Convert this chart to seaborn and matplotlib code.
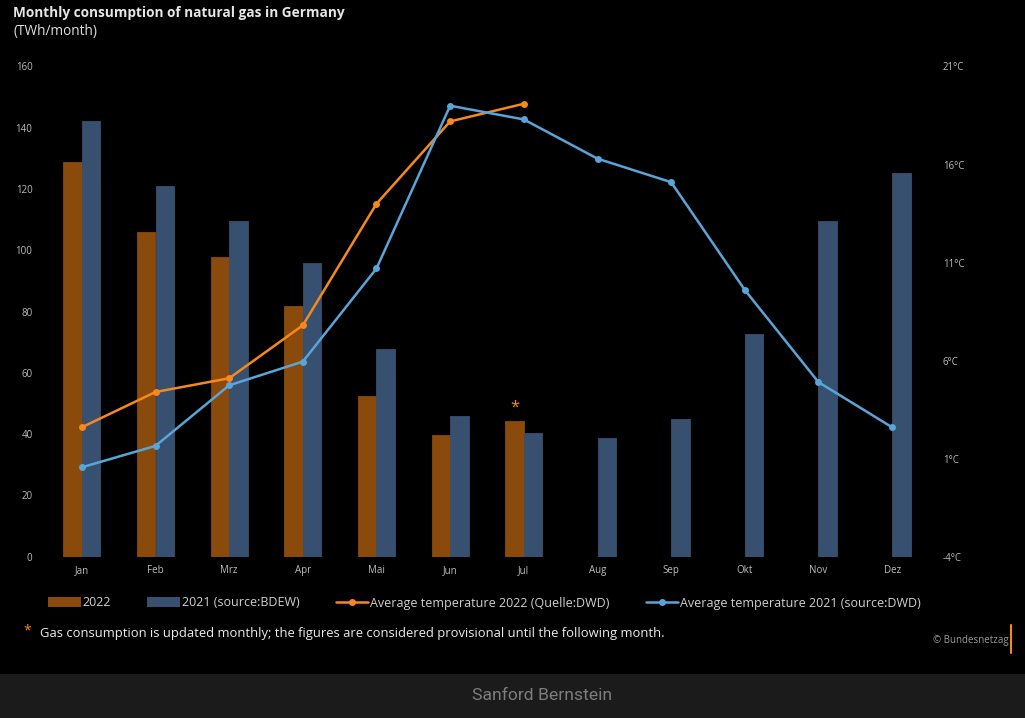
import numpy as np
import pandas as pd
import matplotlib
matplotlib.use("Agg")
import matplotlib.pyplot as plt
from matplotlib.patches import Patch, Rectangle
from matplotlib.lines import Line2D
import seaborn as sns

months = ["Jan", "Feb", "Mrz", "Apr", "Mai", "Jun", "Jul", "Aug", "Sep", "Okt", "Nov", "Dez"]
gas_2022 = [128.7, 105.9, 97.7, 81.7, 52.5, 39.7, 44.3, np.nan, np.nan, np.nan, np.nan, np.nan]
gas_2021 = [142.2, 121.0, 109.5, 95.8, 67.9, 46.0, 40.4, 38.6, 45.0, 72.8, 109.5, 125.2]
temp_2022 = [2.6, 4.4, 5.1, 7.8, 14.0, 18.2, 19.1, np.nan, np.nan, np.nan, np.nan, np.nan]
temp_2021 = [0.56, 1.65, 4.74, 5.95, 10.7, 19.0, 18.3, 16.3, 15.1, 9.6, 4.9, 2.6]
left_ticks = [0, 20, 40, 60, 80, 100, 120, 140, 160]
right_ticks = [-4, 1, 6, 11, 16, 21]

C_BAR22 = "#8a4a0b"
C_BAR21 = "#37506f"
C_LN22 = "#f7891c"
C_LN21 = "#5aa5d8"
TXT = "#bdbdbd"

sns.set_theme(style="dark")
plt.rcParams["font.family"] = ["Open Sans", "DejaVu Sans"]

fig = plt.figure(figsize=(10.25, 7.18), dpi=100, facecolor="black")
ax = fig.add_axes([45 / 1025, 1 - 556.7 / 718, (929 - 45) / 1025, (556.7 - 66.5) / 718])
ax.set_facecolor("black")

bars = pd.DataFrame({
    "month": months * 2,
    "value": gas_2022 + gas_2021,
    "year": ["2022"] * 12 + ["2021"] * 12,
})
sns.barplot(data=bars, x="month", y="value", hue="year", order=months,
            hue_order=["2022", "2021"], palette={"2022": C_BAR22, "2021": C_BAR21},
            width=0.5, errorbar=None, saturation=1, ax=ax, legend=False)
for p in ax.patches:
    p.set_edgecolor(p.get_facecolor())
    p.set_linewidth(0.6)

ax.set_xlim(-0.5, 11.5)
ax.set_ylim(left_ticks[0], left_ticks[-1])
ax.set_yticks(left_ticks)
ax.set_xlabel("")
ax.set_ylabel("")
ax.tick_params(axis="both", length=0, colors=TXT, labelsize=7)
ax.tick_params(axis="y", pad=9)
ax.tick_params(axis="x", pad=6)
for s in ax.spines.values():
    s.set_visible(False)
ax.grid(False)

# provisional star over July 2022
jul = months.index("Jul")
ax.text(jul - 0.125, gas_2022[jul] + 4.5, "*", color=C_LN22, ha="center", va="center", fontsize=12)

ax2 = ax.twinx()
ax2.set_facecolor("none")
idx = list(range(len(months)))
lines = pd.DataFrame({
    "idx": idx * 2,
    "temp": temp_2022 + temp_2021,
    "series": ["2022"] * 12 + ["2021"] * 12,
})
sns.lineplot(data=lines.dropna(), x="idx", y="temp", hue="series",
             palette={"2022": C_LN22, "2021": C_LN21}, marker="o", markersize=5,
             markeredgewidth=0, linewidth=1.8, ax=ax2, legend=False, sort=False)
ax2.set_ylim(right_ticks[0], right_ticks[-1])
ax2.set_yticks(right_ticks)
ax2.set_yticklabels([f"{t}°C" for t in right_ticks])
ax2.set_xlim(-0.5, 11.5)
ax2.set_xlabel("")
ax2.set_ylabel("")
ax2.tick_params(axis="y", length=0, colors=TXT, labelsize=7, pad=10)
for s in ax2.spines.values():
    s.set_visible(False)
ax2.grid(False)

# titles
fig.text(13 / 1025, 1 - 13 / 718, "Monthly consumption of natural gas in Germany",
         color="#e6e6e6", fontsize=9.8, fontweight="bold", ha="left", va="center")
fig.text(13 / 1025, 1 - 32 / 718, "(TWh/month)", color="#e0e0e0", fontsize=9.8,
         ha="left", va="center")

# legend
handles = [
    Patch(facecolor=C_BAR22, edgecolor="none", label="2022"),
    Patch(facecolor=C_BAR21, edgecolor="none", label="2021 (source:BDEW)"),
    Line2D([], [], color=C_LN22, marker="o", markersize=4, linewidth=1.8,
           label="Average temperature 2022 (Quelle:DWD)"),
    Line2D([], [], color=C_LN21, marker="o", markersize=4, linewidth=1.8,
           label="Average temperature 2021 (source:DWD)"),
]
leg = fig.legend(handles=handles, loc="center left", bbox_to_anchor=(37 / 1025, 1 - 603 / 718),
                 ncol=4, frameon=False, fontsize=9, labelcolor="#d0d0d0",
                 handlelength=2.6, handleheight=0.8, handletextpad=0.15, columnspacing=2.9)

# footnote
fig.text(27 / 1025, 1 - 631 / 718, "*", color=C_LN22, fontsize=10, ha="center", va="center")
fig.text(40 / 1025, 1 - 633 / 718,
         "Gas consumption is updated monthly; the figures are considered provisional until the following month.",
         color="#ececec", fontsize=9.4, ha="left", va="center")
fig.text(933 / 1025, 1 - 641 / 718, "© Bundesnetzag", color="#9a9a9a", fontsize=7,
         ha="left", va="center")
fig.add_artist(Line2D([1011 / 1025, 1011 / 1025], [1 - 625 / 718, 1 - 653 / 718],
                      color=C_LN22, linewidth=1.5, transform=fig.transFigure))

# bottom band
fig.add_artist(Rectangle((0, 0), 1, 44 / 718, transform=fig.transFigure,
                         facecolor="#1b1b1b", edgecolor="none", zorder=-1))
fig.text(542 / 1025, 22 / 718, "Sanford Bernstein", color="#7d7d7d", fontsize=12.6,
         ha="center", va="center", family=["Roboto", "DejaVu Sans"])

fig.savefig("out.png", dpi=100, facecolor="black")
